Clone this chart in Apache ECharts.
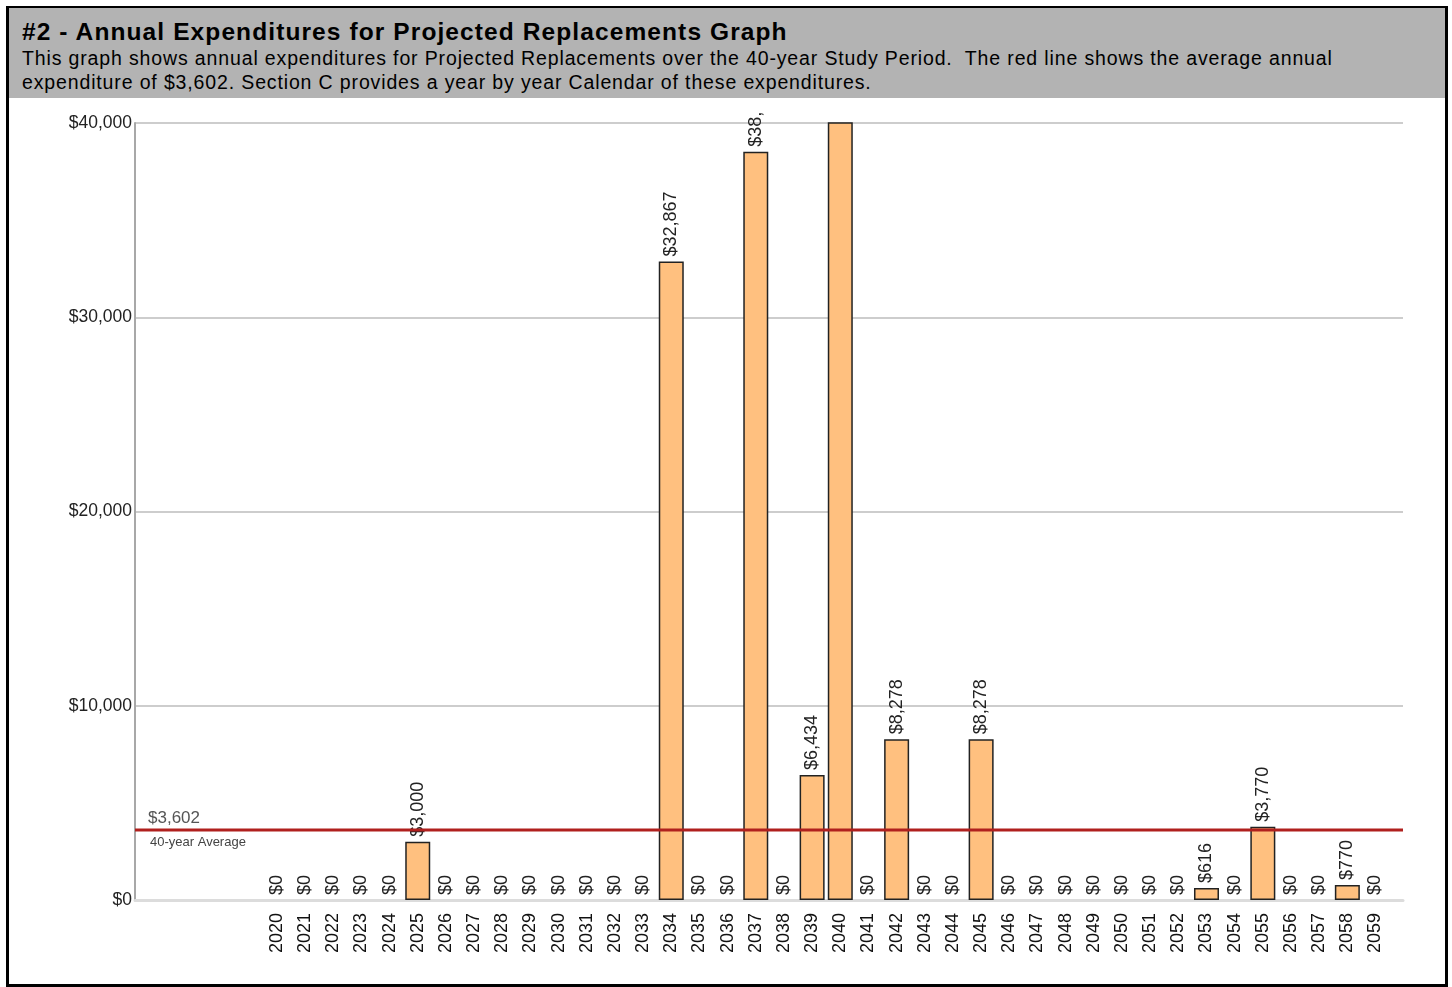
<!DOCTYPE html>
<html>
<head>
<meta charset="utf-8">
<script src="https://cdn.jsdelivr.net/npm/echarts@6/dist/echarts.min.js"></script>
<style>
  html, body { margin: 0; padding: 0; background: #fff; }
  body { width: 1452px; height: 987px; position: relative; overflow: hidden; font-family: "Liberation Sans", Arial, sans-serif; }
  #frame { position: absolute; left: 6px; top: 6px; width: 1442px; height: 981px; border: 3px solid #000; box-sizing: border-box; }
  #header { position: absolute; left: 9px; top: 8px; width: 1436px; height: 90px; background: #b3b3b3; }
  #title { position: absolute; left: 13px; top: 9.5px; font-size: 24.5px; line-height: 28px; font-weight: bold; letter-spacing: 1.1px; color: #000; white-space: nowrap; }
  #sub { position: absolute; left: 13px; top: 37.5px; font-size: 19.5px; line-height: 24px; letter-spacing: 0.86px; color: #000; white-space: pre; }
  #chart { position: absolute; left: 9px; top: 112px; width: 1436px; height: 872px; }
</style>
</head>
<body>
<div id="frame"></div>
<div id="header">
  <div id="title">#2 - Annual Expenditures for Projected Replacements Graph</div>
  <div id="sub">This graph shows annual expenditures for Projected Replacements over the 40-year Study Period.  The red line shows the average annual
expenditure of $3,602. Section C provides a year by year Calendar of these expenditures.</div>
</div>
<div id="chart"></div>
<script>
const years = ['2020','2021','2022','2023','2024','2025','2026','2027','2028','2029',
               '2030','2031','2032','2033','2034','2035','2036','2037','2038','2039',
               '2040','2041','2042','2043','2044','2045','2046','2047','2048','2049',
               '2050','2051','2052','2053','2054','2055','2056','2057','2058','2059'];
const expenditures = [0, 0, 0, 0, 0, 3000, 0, 0, 0, 0,
                      0, 0, 0, 0, 32867, 0, 0, 38520, 0, 6434,
                      41547, 0, 8278, 0, 0, 8278, 0, 0, 0, 0,
                      0, 0, 0, 616, 0, 3770, 0, 0, 770, 0];
const averageAnnual = 3602;
const averageLabel = '40-year Average';
const yTicks = [0, 10000, 20000, 30000, 40000];

const fmt = v => '$' + Math.round(v).toLocaleString('en-US');
const FONT = '"Liberation Sans", Arial, sans-serif';

const chart = echarts.init(document.getElementById('chart'), null, { renderer: 'canvas' });
chart.setOption({
  animation: false,
  backgroundColor: '#ffffff',
  textStyle: { fontFamily: FONT },
  grid: [
    { left: 126, top: 11, width: 1268, height: 777 },
    { left: 253.8, top: 11, width: 1126.8, height: 777 }
  ],
  xAxis: [
    { type: 'value', gridIndex: 0, min: 0, max: 1, position: 'bottom',
      axisLine: { show: true, onZero: false, lineStyle: { color: '#dcdcdc', width: 3 } },
      axisTick: { show: false }, axisLabel: { show: false }, splitLine: { show: false } },
    { type: 'category', gridIndex: 1, data: years, boundaryGap: true,
      axisLine: { show: false }, axisTick: { show: false },
      axisLabel: { interval: 0, rotate: 90, margin: 13, fontSize: 18, color: '#111', fontFamily: FONT } }
  ],
  yAxis: [
    { type: 'value', gridIndex: 0, min: yTicks[0], max: yTicks[yTicks.length - 1], interval: 10000,
      axisLine: { show: true, lineStyle: { color: '#a8a8a8', width: 2 } },
      axisTick: { show: false },
      axisLabel: { margin: 3, fontSize: 17.5, color: '#222', fontFamily: FONT, formatter: fmt },
      splitLine: { show: true, lineStyle: { color: '#bdbdbd', width: 1.5 } } },
    { type: 'value', gridIndex: 1, min: yTicks[0], max: yTicks[yTicks.length - 1], interval: 10000,
      show: false, splitLine: { show: false } }
  ],
  series: [
    { type: 'bar', xAxisIndex: 1, yAxisIndex: 1, data: expenditures.map(v => (v > 0 ? v : '-')),
      barWidth: 25, clip: true, z: 2,
      itemStyle: { color: '#ffc07f', borderColor: '#222', borderWidth: 1.5 },
      label: { show: false } },
    { type: 'bar', xAxisIndex: 1, yAxisIndex: 1, data: expenditures, barWidth: 25, barGap: '-100%', clip: false, z: 3,
      itemStyle: { color: 'rgba(0,0,0,0)', borderWidth: 0 },
      label: { show: true, position: 'top', rotate: 90, align: 'left', verticalAlign: 'middle', distance: 5,
               fontSize: 18, color: '#222', fontFamily: FONT, formatter: p => fmt(p.value) } },
    { type: 'line', xAxisIndex: 0, yAxisIndex: 0, z: 10, symbol: 'none', silent: true,
      data: [[0, averageAnnual], [1, averageAnnual]],
      lineStyle: { color: '#b0201e', width: 3 },
      markLine: {
        silent: true, symbol: 'none',
        lineStyle: { color: 'rgba(0,0,0,0)', width: 0 },
        data: [
          { yAxis: averageAnnual, label: { show: true, position: 'insideStartTop', distance: [13, 3],
              formatter: fmt(averageAnnual), fontSize: 17, color: '#555', fontFamily: FONT } },
          { yAxis: averageAnnual, label: { show: true, position: 'insideStartBottom', distance: [15, 6],
              formatter: averageLabel, fontSize: 13, color: '#444', fontFamily: FONT } }
        ]
      } }
  ]
});
</script>
</body>
</html>
